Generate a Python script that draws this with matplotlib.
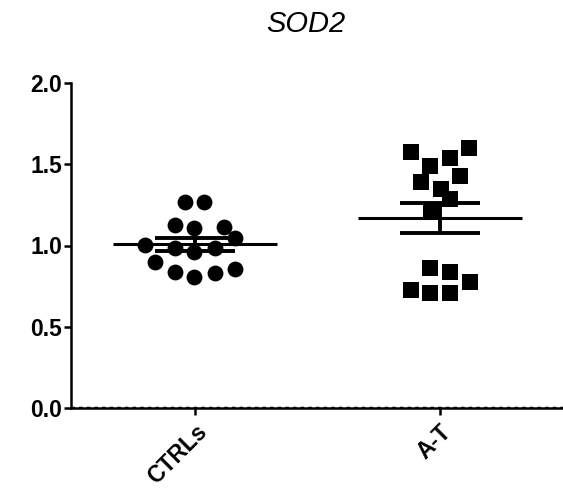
import matplotlib
matplotlib.use("Agg")
import matplotlib.pyplot as plt
import numpy as np

plt.rcParams['font.family'] = ['Liberation Sans', 'DejaVu Sans']

# Groups and values
groups = ['CTRLs', 'A-T']

ctrl_vals = [1.268, 1.268, 1.126, 1.108, 1.114, 1.046, 1.003, 0.985, 0.96,
             0.985, 0.898, 0.837, 0.806, 0.831, 0.855]
ctrl_jitter = [-0.04, 0.037, -0.082, -0.004, 0.118, 0.163, -0.204, -0.082,
               -0.004, 0.082, -0.163, -0.082, -0.004, 0.082, 0.163]

at_vals = [1.575, 1.60, 1.538, 1.489, 1.428, 1.391, 1.348, 1.286, 1.218,
           0.862, 0.837, 0.775, 0.726, 0.708, 0.708]
at_jitter = [-0.118, 0.118, 0.041, -0.041, 0.082, -0.078, 0.004, 0.041,
             -0.037, -0.041, 0.041, 0.122, -0.118, -0.041, 0.041]

means = [1.009, 1.169]
sems = [0.040, 0.093]

fig = plt.figure(figsize=(5.63, 4.91), dpi=100)
ax = fig.add_axes([71 / 563, 83 / 491, 1 - 71 / 563, 325 / 491])

ax.scatter(1 + np.array(ctrl_jitter), ctrl_vals, marker='o', s=130,
           color='black', linewidths=0, zorder=3)
ax.scatter(2 + np.array(at_jitter), at_vals, marker='s', s=120,
           color='black', linewidths=0, zorder=3)

# mean lines and SEM bars
for i, (m, s) in enumerate(zip(means, sems)):
    x = i + 1
    ax.hlines(m, x - 0.335, x + 0.335, color='black', lw=2.2, zorder=4)
    ax.vlines(x, m - s, m + s, color='black', lw=2.8, zorder=4)
    ax.hlines([m - s, m + s], x - 0.165, x + 0.165, color='black', lw=2.8, zorder=4)

ax.axhline(0, color='black', lw=2.5, linestyle=(0, (1, 1.2)), zorder=2)

ax.set_xlim(0.494, 2.502)
ax.set_ylim(0, 2.0)
ax.set_yticks([0.0, 0.5, 1.0, 1.5, 2.0])
ax.set_yticklabels(['0.0', '0.5', '1.0', '1.5', '2.0'])
ax.set_xticks([1, 2])
ax.set_xticklabels(groups, rotation=45, ha='right', rotation_mode='anchor')

for lab in ax.get_xticklabels() + ax.get_yticklabels():
    lab.set_fontsize(16.5)
    lab.set_fontweight('bold')

ax.spines['top'].set_visible(False)
ax.spines['right'].set_visible(False)
ax.spines['left'].set_linewidth(1.8)
ax.spines['bottom'].set_linewidth(1.8)
ax.tick_params(axis='both', width=1.8, length=5, pad=1.5)
ax.tick_params(axis='x', pad=4)

fig.text(0.544, 0.951, 'SOD2', fontsize=21, style='italic', ha='center', va='center')

fig.savefig('out.png', dpi=100)
